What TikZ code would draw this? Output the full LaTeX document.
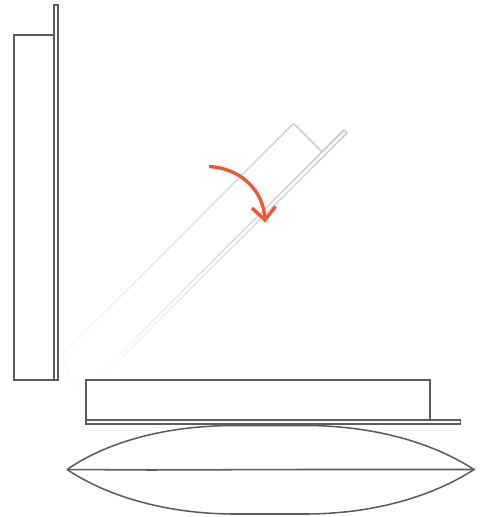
\documentclass[tikz,border=0pt]{standalone}
\usetikzlibrary{calc}
\definecolor{ink}{RGB}{92,92,92}
\definecolor{accent}{RGB}{241,84,46}
\tikzset{
  x=0.75pt,y=-0.75pt,
  solid line/.style={draw=ink,line width=1.4pt,line join=miter},
  thin line/.style={draw=ink,line width=1.15pt},
  turn arrow/.style={draw=accent,line width=2.5pt},
}
\newcommand{\fadeline}[4]{%
  \foreach \i in {0,...,23}{%
    \pgfmathsetmacro{\mix}{#3-(#3-#4)*\i/23}%
    \draw[draw=ink!\mix!white,line width=1.1pt]
      ($(#1)!\i/24!(#2)$) -- ($(#1)!{(\i+1)/24}!(#2)$);
  }%
}
\begin{document}
\begin{tikzpicture}
\useasboundingbox (0,0) rectangle (479,517);
% upright position
\draw[solid line] (54,35) -- (14,35) -- (14,380) -- (54,380);
\draw[solid line] (54,5) rectangle (58,380);
% tilted position
\coordinate (boxtop) at (293.5,123.5);
\coordinate (boxright) at (322,152);
\coordinate (boxleft) at (62,355);
\coordinate (boxlow) at (78,394);
\coordinate (pa) at (344,130);
\coordinate (pb) at (347,133);
\coordinate (pc) at (103,376);
\coordinate (pd) at (100,373.5);
\draw[draw=ink!30!white,line width=1.1pt] (boxtop) -- (boxright);
\draw[draw=ink!30!white,line width=1.1pt] (pa) -- (pb);
\fadeline{boxtop}{boxleft}{28}{3}
\fadeline{pa}{pd}{38}{3}
\fadeline{pb}{pc}{32}{3}
\fadeline{boxleft}{boxlow}{5}{2}
% lying position
\draw[solid line] (86,420) -- (86,380) -- (430,380) -- (430,420);
\draw[solid line] (86,420) rectangle (460.5,424);
% cushion
\coordinate (cl) at (67,469.5);
\coordinate (cr) at (474,469.5);
\draw[thin line] (cl) .. controls (110,440) and (170,425.5) .. (235,425.5)
  -- (305,425.5) .. controls (370,425.5) and (430,441) .. (cr)
  .. controls (430,498) and (370,514) .. (305,514)
  -- (235,514) .. controls (170,514) and (110,498) .. (cl);
\draw[thin line] (cl) -- (150,470) -- (300,469.5) -- (cr);
% arrow
\coordinate (as) at (209,166.5);
\coordinate (ae) at (265,220);
\draw[turn arrow] (as) .. controls (240,168) and (264,190) .. (ae);
\draw[turn arrow,line join=miter] (252,208) -- (ae) -- (275.5,206.5);
\end{tikzpicture}
\end{document}
